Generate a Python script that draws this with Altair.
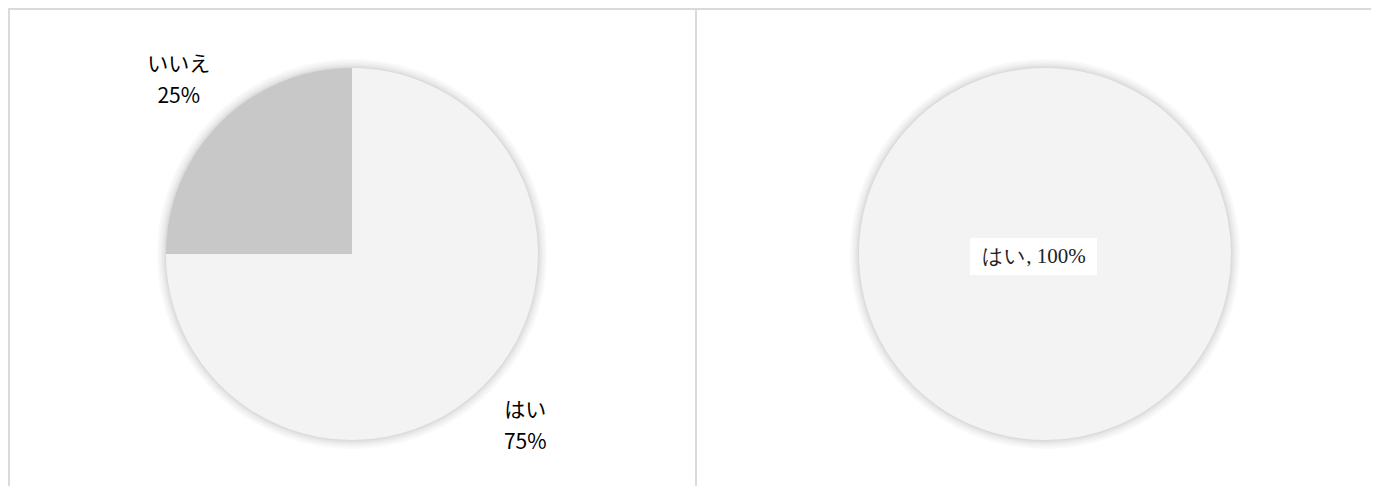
import altair as alt
import pandas as pd

# ---- data ----
answers = ["はい", "いいえ"]
left_values = [75, 25]
left_labels = ["はい\n75%", "いいえ\n25%"]
right_answers = ["はい"]
right_values = [100]
right_labels = ["はい, 100%"]

# ---- layout / style ----
W, H = 1363, 478
R = 186
LX, LY = 344, 246
RX, RY = 1037, 246
fills = ["#f3f3f3", "#c8c8c8"]
line_color = "#dadada"

left_df = pd.DataFrame({"answer": answers, "value": left_values,
                        "order": list(range(len(answers))), "label": left_labels})
right_df = pd.DataFrame({"answer": right_answers, "value": right_values,
                         "order": [0], "label": right_labels})
one = pd.DataFrame({"k": [0]})

color = alt.Color("answer:N", scale=alt.Scale(domain=answers, range=fills), legend=None)

layers = []

# frame lines
for xv in [1, 688]:
    layers.append(alt.Chart(one).mark_rule(color=line_color, strokeWidth=2)
                  .encode(x=alt.value(xv), y=alt.value(0), y2=alt.value(H)))
layers.append(alt.Chart(one).mark_rule(color=line_color, strokeWidth=2)
              .encode(x=alt.value(0), x2=alt.value(W), y=alt.value(1)))

# soft shadows
for cx, cy in [(LX, LY), (RX, RY)]:
    for k in [9, 7, 5, 3.5, 2.2, 1.2]:
        layers.append(alt.Chart(one).mark_arc(radius=R + k, theta=0, theta2=6.2832,
                                              fill="#000000", opacity=0.022)
                      .encode(x=alt.value(cx), y=alt.value(cy)))

# left pie
base_l = alt.Chart(left_df).encode(
    theta=alt.Theta("value:Q", stack=True),
    order=alt.Order("order:Q"),
)
layers.append(base_l.mark_arc(radius=R, stroke=None)
              .encode(x=alt.value(LX), y=alt.value(LY), color=color))
layers.append(base_l.mark_text(radius=245, font="Noto Sans CJK JP", fontSize=21,
                               lineBreak="\n", lineHeight=32, dy=-16, color="#000000")
              .encode(x=alt.value(LX), y=alt.value(LY), text="label:N"))

# right pie
base_r = alt.Chart(right_df).encode(
    theta=alt.Theta("value:Q", stack=True),
    order=alt.Order("order:Q"),
)
layers.append(base_r.mark_arc(radius=R, stroke=None)
              .encode(x=alt.value(RX), y=alt.value(RY), color=color))
layers.append(alt.Chart(one).mark_rect(color="#ffffff")
              .encode(x=alt.value(962), x2=alt.value(1089), y=alt.value(230), y2=alt.value(267)))
layers.append(base_r.mark_text(font="Liberation Serif", fontSize=21, color="#222222")
              .encode(x=alt.value(1026), y=alt.value(249), text="label:N"))

chart = alt.layer(*layers).properties(
    width=W, height=H, padding=0,
    autosize=alt.AutoSizeParams(type="none"),
).configure_view(stroke=None)

chart.save("out.html", embed_options={"renderer": "svg", "actions": False})
